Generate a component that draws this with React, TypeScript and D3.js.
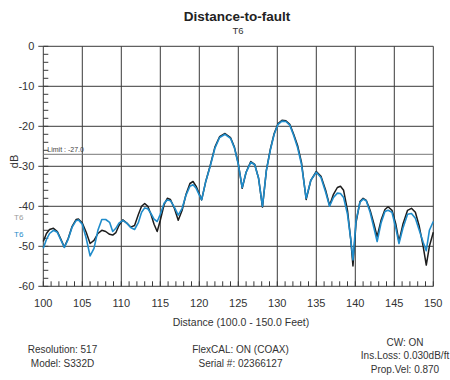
import React from "react";
import * as d3 from "d3";

const distances = [
  100.0, 100.4, 100.8, 101.3, 101.8, 102.2, 102.7, 103.2, 103.7, 104.2, 104.5, 105.0, 105.5, 106.0, 106.5,
  107.0, 107.5, 108.0, 108.5, 108.9, 109.3, 109.7, 110.2, 110.7, 111.2, 111.7, 112.2, 112.6, 113.0, 113.4,
  113.8, 114.2, 114.6, 115.0, 115.5, 115.9, 116.3, 116.8, 117.3, 117.8, 118.3, 118.8, 119.2, 119.6, 120.3,
  120.8, 121.4, 122.0, 122.6, 123.3, 124.0, 124.5, 125.0, 125.5, 126.0, 126.6, 127.1, 127.6, 128.1, 128.6,
  129.1, 129.6, 130.1, 130.6, 131.1, 131.6, 132.1, 132.6, 133.1, 133.7, 134.3, 135.0, 135.6, 136.2, 136.7,
  137.2, 137.7, 138.1, 138.5, 139.0, 139.4, 139.7, 140.1, 140.6, 141.0, 141.4, 141.9, 142.4, 142.8, 143.3,
  143.8, 144.2, 144.7, 145.2, 145.6, 146.1, 146.7, 147.2, 147.7, 148.2, 148.7, 149.1, 149.5, 150.0,
];

const traceBlack = [
  -48.8, -46.8, -45.8, -45.5, -46.3, -48.0, -50.2, -48.0, -45.0, -43.3, -43.2, -44.2, -46.5, -49.3, -48.5,
  -46.8, -46.0, -46.3, -47.0, -47.2, -46.6, -44.8, -43.4, -44.2, -45.2, -44.8, -42.0, -40.0, -39.3, -40.0,
  -42.0, -44.5, -46.3, -43.5, -39.5, -38.0, -38.3, -40.5, -43.5, -41.0, -37.0, -34.3, -33.8, -35.0, -38.4,
  -34.0, -29.8, -25.2, -22.6, -21.8, -22.8, -25.2, -29.3, -35.5, -31.5, -28.8, -29.5, -33.0, -40.2, -31.0,
  -25.8, -21.8, -19.3, -18.5, -18.6, -19.5, -22.0, -24.8, -29.0, -38.3, -33.5, -31.3, -32.5, -36.0, -39.8,
  -37.0, -35.3, -35.0, -36.0, -41.0, -48.0, -54.9, -44.0, -38.8, -38.0, -38.5, -41.0, -44.5, -47.6, -43.5,
  -40.8, -40.1, -41.0, -44.5, -48.8, -44.5, -41.0, -40.5, -41.5, -45.0, -50.0, -54.7, -50.0, -46.5,
];

const traceBlue = [
  -50.5, -48.3, -46.8, -46.0, -46.5, -48.2, -50.3, -48.2, -45.2, -43.6, -43.4, -44.5, -48.0, -52.4, -50.5,
  -46.0, -43.3, -43.3, -44.0, -46.3, -45.5, -44.2, -43.5, -44.2, -45.3, -45.8, -44.0, -41.5, -40.4, -40.6,
  -41.8, -43.2, -43.8, -42.0, -39.2, -38.4, -38.6, -40.2, -42.2, -40.5, -37.2, -35.0, -34.6, -35.5, -38.4,
  -34.0, -30.0, -25.5, -22.8, -22.0, -23.0, -25.4, -29.5, -35.3, -31.5, -29.0, -29.6, -33.0, -40.0, -31.0,
  -26.0, -22.0, -19.5, -18.7, -18.8, -19.7, -22.3, -25.3, -29.5, -38.0, -33.5, -31.5, -32.8, -36.5, -40.0,
  -37.8, -36.7, -36.8, -37.8, -42.0, -48.0, -53.4, -43.5, -39.0, -38.2, -38.6, -41.5, -45.5, -48.8, -44.2,
  -41.3, -41.0, -41.5, -45.5, -49.3, -45.5, -42.0, -41.8, -43.0, -46.0, -49.0, -51.1, -46.0, -43.8,
];

const xTicks = [100, 105, 110, 115, 120, 125, 130, 135, 140, 145, 150];
const yTicks = [0, -10, -20, -30, -40, -50, -60];
const limitValue = -27.0;

const title = "Distance-to-fault";
const subtitle = "T6";
const xLabel = "Distance (100.0 - 150.0 Feet)";
const yLabel = "dB";
const legendLabels = ["T6", "T6"];
const footerLeft = ["Resolution: 517", "Model: S332D"];
const footerMid = ["FlexCAL: ON (COAX)", "Serial #: 02366127"];
const footerRight = ["CW: ON", "Ins.Loss: 0.030dB/ft", "Prop.Vel: 0.870"];

const FONT = "'Liberation Sans', Arial, Helvetica, sans-serif";

export default function App() {
  const W = 450;
  const H = 380;
  const left = 43.3;
  const right = 433.3;
  const top = 46.3;
  const bottom = 286.3;

  const x = d3.scaleLinear().domain([100, 150]).range([left, right]);
  const y = d3.scaleLinear().domain([0, -60]).range([top, bottom]);

  const line = d3
    .line<[number, number]>()
    .x((d) => x(d[0]))
    .y((d) => y(d[1]))
    .curve(d3.curveLinear);

  const blackPts: [number, number][] = distances.map((d, i) => [d, traceBlack[i]]);
  const bluePts: [number, number][] = distances.map((d, i) => [d, traceBlue[i]]);

  const minorX = d3.range(100, 151, 1);
  const minorY = d3.range(0, -61, -2);

  const gridColor = "#3a3a3a";

  return (
    <svg
      width={W}
      height={H}
      style={{ position: "absolute", left: 0, top: 0, background: "#fff" }}
      fontFamily={FONT}
    >
      <rect x={0} y={0} width={W} height={H} fill="#fff" />
      <text x={237} y={21} textAnchor="middle" fontSize={13.5} fontWeight="bold" fill="#222">
        {title}
      </text>
      <text x={238} y={34} textAnchor="middle" fontSize={9.5} fill="#333">
        {subtitle}
      </text>

      {/* grid */}
      {xTicks.map((t) => (
        <line key={"gx" + t} x1={x(t)} x2={x(t)} y1={top} y2={bottom} stroke={gridColor} strokeWidth={1} />
      ))}
      {yTicks.map((t) => (
        <line key={"gy" + t} x1={left} x2={right} y1={y(t)} y2={y(t)} stroke={gridColor} strokeWidth={1} />
      ))}
      {/* major tick outs */}
      {yTicks.map((t) => (
        <line key={"ty" + t} x1={left - 5} x2={left} y1={y(t)} y2={y(t)} stroke={gridColor} strokeWidth={1} />
      ))}
      {/* minor ticks */}
      {minorY.map((t) => (
        <line key={"my" + t} x1={left} x2={left + 5} y1={y(t)} y2={y(t)} stroke={gridColor} strokeWidth={1} />
      ))}
      {minorX.map((t) => (
        <line key={"mx" + t} x1={x(t)} x2={x(t)} y1={bottom} y2={bottom - 5} stroke={gridColor} strokeWidth={1} />
      ))}

      {/* limit line */}
      <line x1={left} x2={right} y1={y(limitValue)} y2={y(limitValue)} stroke="#777" strokeWidth={1} />
      <text x={left + 4} y={y(limitValue) - 2.5} fontSize={7} fill="#444">
        {"Limit : " + limitValue.toFixed(1)}
      </text>

      {/* traces */}
      <path d={line(blackPts) || ""} fill="none" stroke="#1c1c1c" strokeWidth={1.5} strokeLinejoin="round" />
      <path d={line(bluePts) || ""} fill="none" stroke="#1f8ccb" strokeWidth={1.6} strokeLinejoin="round" />

      {/* y tick labels */}
      {yTicks.map((t) => (
        <text key={"ly" + t} x={left - 9} y={y(t) + 4} textAnchor="end" fontSize={11} fill="#333">
          {t}
        </text>
      ))}
      {/* x tick labels */}
      {xTicks.map((t) => (
        <text key={"lx" + t} x={x(t)} y={307} textAnchor="middle" fontSize={11} fill="#333">
          {t}
        </text>
      ))}
      <text x={241} y={326} textAnchor="middle" fontSize={10.5} fill="#333">
        {xLabel}
      </text>
      <text transform="translate(17.5,161.5) rotate(-90)" textAnchor="middle" fontSize={11} fill="#333">
        {yLabel}
      </text>

      {/* legend */}
      <text x={14} y={220} fontSize={8} fill="#9a9a9a">
        {legendLabels[0]}
      </text>
      <text x={14} y={237} fontSize={8} fill="#1f8ccb">
        {legendLabels[1]}
      </text>

      {/* footer */}
      {footerLeft.map((s, i) => (
        <text key={"fl" + i} x={62.5} y={353 + i * 14} textAnchor="middle" fontSize={10} fill="#333">
          {s}
        </text>
      ))}
      {footerMid.map((s, i) => (
        <text key={"fm" + i} x={240.5} y={353 + i * 14} textAnchor="middle" fontSize={10} fill="#333">
          {s}
        </text>
      ))}
      {footerRight.map((s, i) => (
        <text key={"fr" + i} x={405} y={346 + i * 13.3} textAnchor="middle" fontSize={10} fill="#333">
          {s}
        </text>
      ))}
    </svg>
  );
}
